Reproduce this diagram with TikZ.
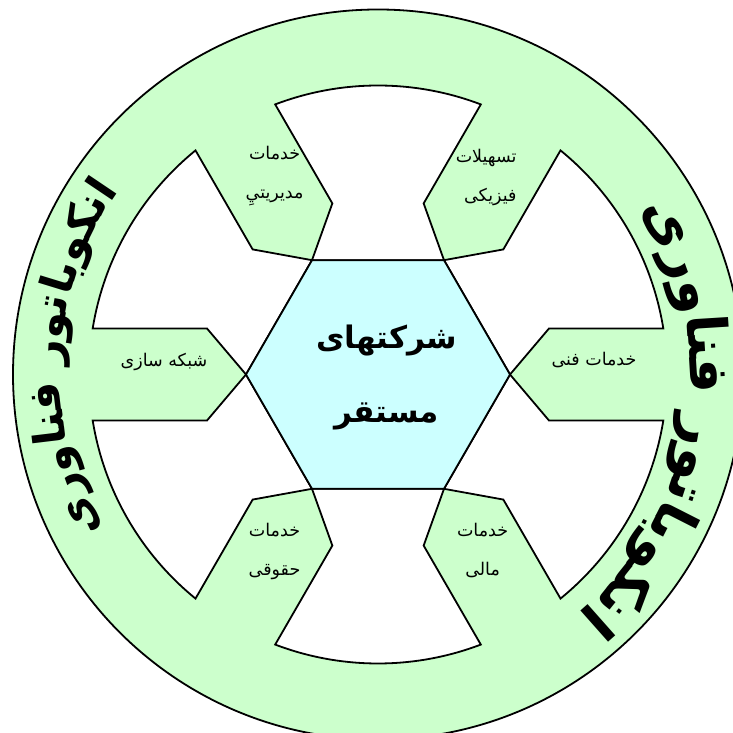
\documentclass[tikz,border=0pt]{standalone}
\usepackage{fontspec}
\newfontfamily\arabicfont[Script=Arabic]{DejaVu Sans}
\TeXXeTstate=1
\definecolor{ringgreen}{HTML}{CCFFCC}
\definecolor{hexcyan}{HTML}{CCFFFF}
\newlength\piecelen
\newlength\totallen
\newcommand\leftfont{\arabicfont\bfseries\fontsize{44}{44}\selectfont}
\newcommand\rightfont{\arabicfont\bfseries\fontsize{55}{55}\selectfont}
\tikzset{
  outline/.style={draw=black, line width=1.8pt, line join=miter},
  ringshape/.style={outline, fill=ringgreen},
  gapshape/.style={outline, fill=white},
  hexshape/.style={outline, fill=hexcyan},
  smalllabel/.style={font=\arabicfont\fontsize{17.5}{39}\selectfont, inner sep=0pt},
  biglabel/.style={font=\arabicfont\bfseries\fontsize{31}{74}\selectfont, inner sep=0pt},
  arcpiece/.style={inner sep=0pt, anchor=base}
}
% #1 font, #2 prefix, #3 baseline radius, #4 middle angle
\newcommand\preparearc[4]{%
  \setbox0=\hbox{#1\beginR انکوباتور فناوری\endR}%
  \global\totallen=\wd0
  \pgfmathsetmacro\tmpstart{#4-(\totallen/#3*180/pi)/2}%
  \xdef\curang{\tmpstart}%
  \foreach \p [count=\i] in {ا,نکو,با,تو,ر,~,فنا,و,ر,ی} {%
    \setbox0=\hbox{#1\beginR\p\endR}%
    \global\piecelen=\wd0
    \pgfmathsetmacro\da{\piecelen/#3*180/pi}%
    \pgfmathsetmacro\midang{\curang+\da/2}%
    \expandafter\xdef\csname #2ang\i\endcsname{\midang}%
    \pgfmathsetmacro\newang{\curang+\da}%
    \xdef\curang{\newang}%
  }%
}
\begin{document}
\preparearc{\leftfont}{left}{318}{177}%
\preparearc{\rightfont}{right}{312}{-9}%
\begin{tikzpicture}[x=1pt,y=1pt]
\useasboundingbox (0,0) rectangle (733,733);
\clip (0,0) rectangle (733,733);
\begin{scope}[shift={(378,358.5)}]
  \draw[ringshape] (0,0) circle[radius=365];
  \foreach \t in {0,60,...,300} {
    \draw[gapshape] (\t:132) -- ({\t+15.06}:177.08) -- ({\t+9.16}:289)
      arc[start angle={\t+9.16}, end angle={\t+50.84}, radius=289]
      -- ({\t+44.94}:177.08) -- ({\t+60}:132) -- cycle;
  }
  \draw[hexshape] (0:132) -- (60:132) -- (120:132) -- (180:132) -- (240:132) -- (300:132) -- cycle;
  \foreach \p [count=\i] in {ا,نکو,با,تو,ر,~,فنا,و,ر,ی} {
    \ifnum\i=6\else
      \edef\ang{\csname leftang\i\endcsname}
      \pgfmathsetmacro\rot{\ang-90}
      \node[arcpiece, rotate=\rot, font=\leftfont] (left\i) at (\ang:318) {\beginR\p\endR};
      \edef\ang{\csname rightang\i\endcsname}
      \pgfmathsetmacro\rot{\ang-90}
      \node[arcpiece, rotate=\rot, font=\rightfont] (right\i) at (\ang:312) {\beginR\p\endR};
    \fi
  }
\end{scope}
\node[biglabel, align=center] (hub) at (386.5,355) {\beginR شرکتهای\endR\\\beginR مستقر\endR};
\node[smalllabel, align=center] (mgmt) at (274.6,557) {\beginR خدمات\endR\\\beginR مدیریتيِ\endR};
\node[smalllabel, align=right, anchor=east] (phys) at (516.7,555.5) {\beginR تسهیلات\endR\\\beginR فیزیکی\endR};
\node[smalllabel] (net) at (164,371.3) {\beginR شبکه سازی\endR};
\node[smalllabel] (tech) at (594,373) {\beginR خدمات فنی\endR};
\node[smalllabel, align=center] (legal) at (274.5,182) {\beginR خدمات\endR\\\beginR حقوقی\endR};
\node[smalllabel, align=center] (fin) at (482.6,182) {\beginR خدمات\endR\\\beginR مالی\endR};
\end{tikzpicture}
\end{document}
